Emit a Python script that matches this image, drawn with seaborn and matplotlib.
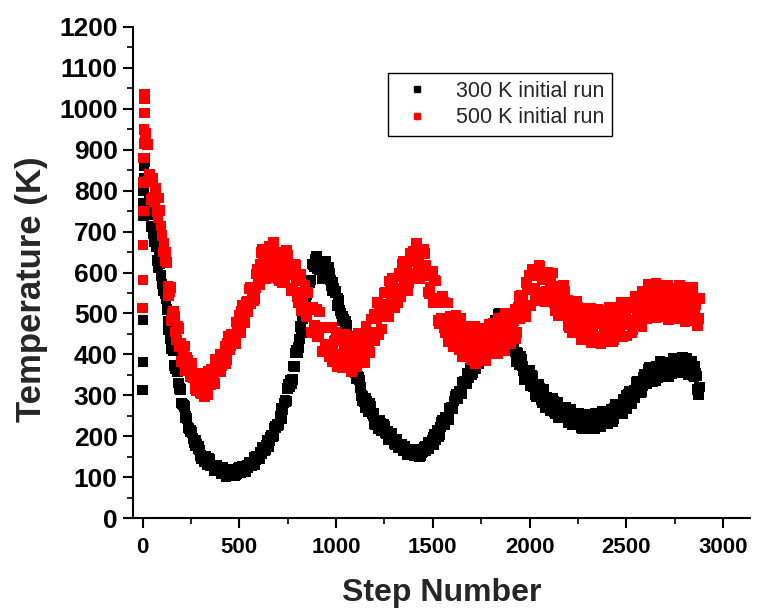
import matplotlib
matplotlib.use("Agg")
import matplotlib.pyplot as plt
import seaborn as sns
import pandas as pd
from matplotlib.ticker import MultipleLocator
from matplotlib.lines import Line2D

# ---------------- data ----------------
series_labels = ["300 K initial run", "500 K initial run"]
series_colors = ["#000000", "#ff0000"]

# readings: steps 0..9 individually, then every 10 steps, plus the in-between (…5) steps
steps_a = list(range(0, 10)) + list(range(10, 2890, 10))
steps_b = list(range(15, 2880, 10))

temp_300_a = [
    313, 381, 484, 740, 770, 800, 830, 860, 880, 870,
    878, 825, 769, 759, 742, 676, 663, 611, 622, 572,
    556, 535, 481, 462, 414, 408, 365, 357, 317, 281,
    276, 245, 243, 219, 215, 194, 177, 179, 175, 153,
    150, 138, 145, 145, 127, 129, 115, 127, 116, 124,
    110, 114, 102, 116, 108, 118, 110, 105, 118, 124,
    124, 117, 114, 129, 137, 127, 137, 131, 151, 148,
    161, 172, 165, 178, 175, 198, 199, 219, 221, 226,
    248, 243, 281, 283, 317, 320, 329, 371, 403, 403,
    437, 454, 504, 543, 546, 580, 582, 620, 617, 640,
    611, 607, 584, 618, 610, 612, 582, 556, 561, 555,
    537, 507, 481, 486, 480, 441, 432, 389, 388, 355,
    346, 337, 299, 298, 270, 285, 263, 272, 249, 231,
    240, 219, 232, 216, 224, 206, 192, 203, 205, 181,
    182, 172, 180, 181, 164, 167, 154, 167, 157, 166,
    154, 161, 151, 168, 163, 176, 171, 169, 186, 197,
    204, 199, 198, 222, 238, 228, 246, 241, 269, 268,
    286, 302, 292, 310, 304, 332, 331, 354, 351, 351,
    373, 364, 397, 393, 419, 413, 411, 440, 458, 443,
    457, 454, 482, 498, 479, 492, 469, 478, 450, 452,
    416, 418, 382, 402, 375, 388, 359, 337, 355, 360,
    349, 322, 301, 321, 327, 289, 299, 270, 296, 275,
    285, 292, 259, 269, 245, 271, 252, 269, 248, 233,
    250, 227, 254, 236, 254, 234, 220, 243, 253, 224,
    231, 219, 244, 256, 229, 243, 224, 254, 240, 262,
    239, 254, 236, 268, 255, 278, 264, 255, 283, 299,
    302, 288, 280, 313, 332, 306, 327, 309, 345, 333,
    352, 368, 339, 357, 336, 369, 354, 379, 360, 347,
    369, 346, 378, 362, 386, 367, 354, 380, 392, 360,
    366, 350, 373, 382, 346, 353, 314, 320,
]
temp_300_b = [
    830, 831, 776, 713, 696, 691, 630, 646, 592,
    555, 549, 509, 460, 439, 426, 373, 373, 330, 314,
    279, 273, 248, 221, 211, 209, 183, 190, 169, 166,
    146, 145, 150, 131, 144, 129, 130, 117, 128, 120,
    109, 124, 111, 115, 105, 119, 113, 103, 109, 121,
    110, 126, 122, 114, 122, 137, 127, 148, 142, 152,
    145, 156, 173, 166, 191, 188, 201, 201, 225, 230,
    228, 268, 264, 287, 286, 328, 337, 339, 370, 411,
    416, 468, 487, 498, 535, 577, 576, 621, 615, 632,
    609, 606, 613, 593, 628, 605, 599, 567, 576, 551,
    520, 533, 500, 494, 462, 471, 444, 402, 386, 381,
    340, 345, 319, 287, 285, 292, 260, 280, 254, 255,
    229, 230, 238, 213, 230, 209, 211, 192, 206, 193,
    179, 192, 177, 178, 164, 175, 167, 154, 157, 166,
    153, 167, 162, 153, 160, 174, 164, 185, 179, 189,
    179, 192, 214, 203, 234, 228, 245, 241, 269, 270,
    266, 298, 292, 309, 304, 332, 333, 327, 343, 366,
    356, 389, 388, 378, 396, 422, 408, 445, 436, 454,
    441, 458, 483, 467, 501, 487, 494, 467, 476, 451,
    418, 442, 406, 406, 374, 395, 372, 339, 343, 357,
    323, 347, 327, 296, 302, 318, 282, 314, 285, 293,
    262, 269, 285, 254, 284, 260, 267, 244, 270, 256,
    235, 266, 243, 251, 229, 256, 242, 218, 228, 248,
    223, 252, 241, 219, 232, 253, 228, 262, 243, 255,
    231, 244, 266, 242, 278, 260, 274, 258, 291, 283,
    267, 310, 292, 310, 295, 333, 326, 307, 324, 351,
    329, 364, 354, 332, 347, 372, 344, 383, 360, 373,
    345, 358, 381, 352, 390, 367, 380, 359, 390, 377,
    355, 390, 363, 372, 347, 372, 347, 302,
]

temp_500_a = [
    513, 582, 667, 750, 820, 880, 915, 950, 990, 1035,
    1024, 914, 822, 827, 830, 772, 784, 733, 751, 690,
    672, 650, 567, 554, 483, 506, 455, 469, 419, 382,
    401, 361, 392, 359, 378, 343, 316, 343, 353, 307,
    313, 296, 335, 358, 325, 351, 329, 378, 363, 400,
    373, 399, 377, 426, 412, 450, 435, 426, 470, 496,
    506, 488, 478, 530, 560, 524, 559, 536, 596, 582,
    621, 657, 599, 636, 587, 654, 616, 662, 618, 585,
    628, 575, 639, 599, 642, 594, 555, 602, 617, 540,
    547, 506, 552, 568, 492, 514, 455, 514, 470, 510,
    443, 466, 407, 467, 424, 465, 417, 381, 433, 454,
    444, 400, 367, 422, 446, 378, 408, 357, 424, 389,
    422, 450, 387, 424, 380, 455, 428, 486, 454, 433,
    488, 447, 522, 494, 550, 515, 491, 554, 586, 526,
    550, 526, 589, 621, 561, 599, 555, 628, 598, 652,
    599, 634, 585, 650, 608, 646, 592, 549, 591, 602,
    580, 525, 482, 527, 542, 466, 489, 431, 492, 450,
    475, 495, 423, 450, 395, 458, 419, 464, 420, 387,
    430, 378, 444, 408, 457, 416, 387, 445, 473, 409,
    429, 401, 460, 488, 424, 458, 410, 480, 448, 500,
    446, 483, 439, 514, 487, 545, 513, 492, 558, 592,
    592, 557, 531, 591, 618, 552, 582, 529, 593, 553,
    579, 599, 526, 551, 494, 555, 513, 555, 507, 470,
    509, 452, 513, 472, 515, 469, 435, 489, 512, 444,
    460, 429, 485, 510, 444, 476, 426, 494, 459, 508,
    450, 482, 432, 500, 465, 514, 473, 443, 501, 528,
    522, 482, 454, 513, 542, 479, 514, 467, 538, 506,
    541, 570, 506, 539, 490, 557, 521, 568, 525, 493,
    537, 485, 551, 514, 561, 518, 486, 541, 565, 497,
    513, 481, 536, 560, 492, 522, 470, 537,
]
temp_500_b = [
    940, 913, 840, 778, 783, 807, 748, 782, 714,
    650, 628, 624, 544, 564, 498, 492, 435, 463, 426,
    384, 420, 380, 385, 346, 377, 351, 310, 320, 343,
    303, 343, 329, 302, 326, 363, 332, 387, 365, 388,
    358, 382, 419, 388, 443, 422, 447, 428, 479, 472,
    452, 520, 496, 526, 504, 564, 556, 531, 562, 608,
    570, 649, 631, 585, 614, 663, 597, 674, 621, 645,
    581, 604, 649, 581, 655, 599, 618, 562, 619, 581,
    526, 595, 534, 550, 494, 551, 515, 454, 471, 511,
    444, 503, 467, 406, 425, 465, 394, 467, 412, 434,
    369, 392, 438, 372, 449, 398, 422, 374, 441, 413,
    370, 451, 404, 435, 394, 468, 449, 405, 440, 498,
    449, 526, 507, 462, 495, 551, 492, 579, 534, 568,
    513, 545, 599, 542, 627, 584, 616, 575, 648, 626,
    587, 671, 623, 649, 597, 656, 617, 552, 564, 598,
    525, 579, 538, 474, 488, 527, 453, 525, 467, 487,
    419, 439, 481, 412, 487, 432, 454, 404, 468, 438,
    391, 469, 416, 442, 394, 463, 436, 385, 413, 463,
    408, 477, 453, 402, 431, 481, 420, 501, 454, 484,
    426, 457, 511, 454, 541, 500, 536, 498, 575, 557,
    520, 607, 562, 592, 547, 615, 587, 533, 555, 600,
    536, 599, 565, 506, 525, 567, 496, 569, 512, 532,
    464, 483, 525, 454, 529, 473, 496, 445, 510, 481,
    435, 513, 462, 488, 440, 509, 481, 430, 455, 505,
    446, 515, 487, 436, 461, 511, 446, 527, 477, 505,
    445, 472, 523, 460, 543, 496, 526, 482, 553, 529,
    488, 571, 524, 552, 506, 574, 546, 492, 517, 563,
    504, 569, 541, 486, 511, 557, 492, 569, 518, 542,
    480, 503, 551, 484, 563, 510, 536, 487,
]

x_ticks = [0, 500, 1000, 1500, 2000, 2500, 3000]
y_ticks = list(range(0, 1201, 100))

# ---------------- figure ----------------
sns.set_theme(style="ticks")
plt.rcParams["font.family"] = ["Liberation Sans", "DejaVu Sans"]

df = pd.concat([
    pd.DataFrame({"step": steps_a + steps_b, "temp": temp_300_a + temp_300_b,
                  "run": series_labels[0]}),
    pd.DataFrame({"step": steps_a + steps_b, "temp": temp_500_a + temp_500_b,
                  "run": series_labels[1]}),
], ignore_index=True)

fig = plt.figure(figsize=(7.58, 6.12), dpi=100)
W, H = 758, 612
ax = fig.add_axes([133 / W, 1 - 518 / H, (750 - 133) / W, (518 - 27) / H])

sns.scatterplot(data=df, x="step", y="temp", hue="run",
                palette=dict(zip(series_labels, series_colors)),
                marker="s", s=58, linewidth=0, alpha=1, ax=ax, legend=False)

ax.set_xlim(-50, 3140)
ax.set_ylim(0, 1200)
ax.set_xticks(x_ticks)
ax.set_yticks(y_ticks)
ax.xaxis.set_minor_locator(MultipleLocator(250))
ax.yaxis.set_minor_locator(MultipleLocator(50))

for side in ["top", "right"]:
    ax.spines[side].set_visible(False)
for side in ["left", "bottom"]:
    ax.spines[side].set_linewidth(1.5)
    ax.spines[side].set_color("black")

ax.tick_params(axis="both", which="major", direction="out", length=7,
               width=1.5, color="black")
ax.tick_params(axis="both", which="minor", direction="out", length=4,
               width=1.2, color="black")
ax.tick_params(axis="y", which="major", labelsize=19, pad=4)
ax.tick_params(axis="x", which="major", labelsize=16, pad=7)
for lab in ax.get_xticklabels() + ax.get_yticklabels():
    lab.set_fontweight("bold")
    lab.set_color("black")

ax.set_xlabel("Step Number", fontsize=23, fontweight="bold", labelpad=14)
ax.set_ylabel("Temperature (K)", fontsize=25, fontweight="bold")
ax.yaxis.set_label_coords(-0.138, 0.466)
ax.grid(False)

handles = [Line2D([], [], linestyle="none", marker="s", markersize=4.5,
                  markerfacecolor=c, markeredgecolor=c)
           for c in series_colors]
leg = ax.legend(handles, series_labels, loc="upper left",
                bbox_to_anchor=(0.413, 0.906), borderaxespad=0,
                fontsize=15.5, frameon=True, fancybox=False, framealpha=1,
                edgecolor="black", handlelength=2.0, handletextpad=0.8,
                labelspacing=0.25, borderpad=0.35)
leg.get_frame().set_linewidth(1.0)

fig.savefig("out.png", dpi=100)
